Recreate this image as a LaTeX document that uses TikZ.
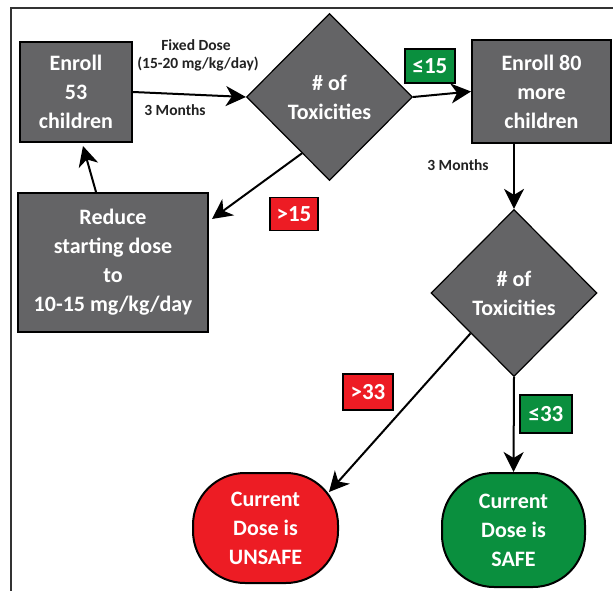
\documentclass[tikz,border=0pt]{standalone}
\usepackage{fontspec}
\setmainfont{Carlito}
\usetikzlibrary{shapes.geometric,arrows.meta,calc}
\definecolor{boxgray}{HTML}{646466}
\definecolor{myred}{HTML}{ED1C24}
\definecolor{mygreen}{HTML}{0A8F3E}
\definecolor{txtdark}{HTML}{222222}
\begin{document}
\begin{tikzpicture}[x=1pt,y=-1pt,
  graybox/.style={draw=black,line width=2pt,fill=boxgray,text=white,font=\fontsize{22}{29}\selectfont\bfseries,align=center,inner sep=0pt},
  dia/.style={diamond,draw=black,line width=1.2pt,fill=boxgray,text=white,font=\fontsize{22}{29}\selectfont\bfseries,align=center,inner sep=0pt,minimum width=166pt,minimum height=167pt},
  endnode/.style={draw=black,line width=2pt,rounded corners=52pt,text=white,font=\fontsize{22}{29}\selectfont\bfseries,align=center,inner sep=0pt},
  tag/.style={draw=black,line width=1.5pt,text=white,font=\fontsize{23}{26}\selectfont\bfseries,inner sep=0pt,minimum height=34pt},
  small/.style={text=txtdark,font=\fontsize{15.5}{18}\selectfont\bfseries,inner sep=0pt},
  arr/.style={line width=2pt,-{Stealth[length=20pt,width=20pt,inset=6pt]}}
]
\useasboundingbox (0,0) rectangle (613,591);
\fill[white] (0,0) rectangle (613,591);
\draw[line width=2.5pt,color=black!80] (11,591) -- (11,8) -- (613,8);

\node[graybox,minimum width=112pt,minimum height=100pt] (e53) at (76,92) {Enroll\\53\\children};
\node[dia] (d1) at (329.5,97) {\# of\\Toxicities};
\node[graybox,minimum width=139pt,minimum height=103pt] (e80) at (541.5,91.5) {Enroll 80\\more\\children};
\node[graybox,minimum width=190pt,minimum height=139pt] (red) at (113,262.5) {Reduce\\starting dose\\to\\10-15 mg/kg/day};
\node[dia] (d2) at (514,293) {\# of\\Toxicities};
\node[endnode,fill=myred,minimum width=145pt,minimum height=110pt] (unsafe) at (265.5,528) {Current\\Dose is\\UNSAFE};
\node[endnode,fill=mygreen,minimum width=143pt,minimum height=114pt] (safe) at (513.5,530) {Current\\Dose is\\SAFE};

\node[tag,fill=mygreen,minimum width=50pt] (t1) at (430,66) {≤15};
\node[tag,fill=myred,minimum width=48pt,minimum height=33pt] (t2) at (294,214) {>15};
\node[tag,fill=myred,minimum width=50pt,minimum height=36pt] (t3) at (368,392) {>33};
\node[tag,fill=mygreen,minimum width=52pt,minimum height=38pt] (t4) at (546,414) {≤33};

\node[small] (l1) at (196,45) {Fixed Dose};
\node[small] (l2) at (198,64) {(15-20 mg/kg/day)};
\node[small] (l3) at (175,110) {3 Months};
\node[small] (l4) at (458,165) {3 Months};

\draw[arr] (e53.east) -- (d1.west);
\draw[arr] (d1.east) -- (e80.west);
\draw[arr] (e80.south -| d2.north) -- (d2.north);
\draw[arr] ($(d1.west)!0.67!(d1.south)$) -- ($(red.north east)+(3,27)$);
\draw[arr] ($(red.north west)+(79,0)$) -- ($(e53.south)+(7,3)$);
\draw[arr] ($(d2.west)!0.48!(d2.south)$) -- ($(unsafe.north east)+(-10,20)$);
\draw[arr] (d2.south) -- (safe.north);
\end{tikzpicture}
\end{document}
